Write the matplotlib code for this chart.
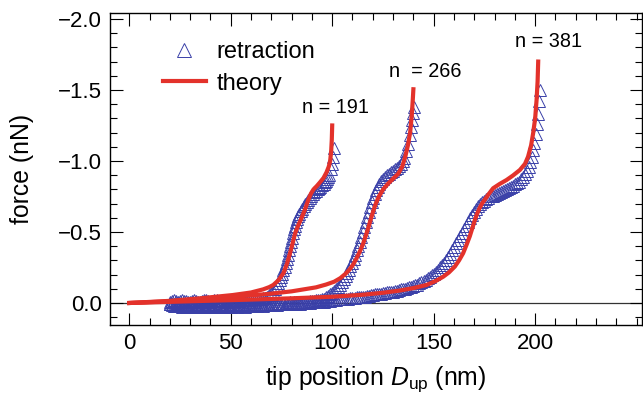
import matplotlib
matplotlib.use("Agg")
import matplotlib.pyplot as plt
from matplotlib.ticker import MultipleLocator

plt.rcParams['font.family'] = ['Liberation Sans', 'DejaVu Sans']
plt.rcParams['mathtext.fontset'] = 'custom'
plt.rcParams['mathtext.rm'] = 'Liberation Sans'
plt.rcParams['mathtext.it'] = 'Liberation Sans:italic'

# theory curves (red)
x_th1 = [0, 20, 35, 51, 60, 66, 69, 71, 73.5, 76, 77.7, 79.2, 80.5, 81.7, 83.2, 84.5, 86.5, 88.2, 89.5,
         90.8, 92.5, 94, 95.7, 97.2, 98.3, 99, 99.5, 99.8, 100]
y_th1 = [0, -0.015, -0.033, -0.056, -0.074, -0.096, -0.112, -0.127, -0.16, -0.21, -0.275, -0.35, -0.42,
         -0.49, -0.545, -0.585, -0.655, -0.725, -0.77, -0.80, -0.825, -0.85, -0.88, -0.92, -0.96, -1.0,
         -1.07, -1.15, -1.25]

x_th2 = [0, 20, 35, 50, 68, 80, 92, 97, 101, 104, 106.5, 108.5, 110.3, 112, 113.7, 115.3, 116.7, 118,
         119.2, 120.3, 121.5, 123, 125.1, 127.5, 130, 132.5, 134.5, 136, 137.3, 138.4, 139.2, 139.7, 140]
y_th2 = [0, -0.012, -0.026, -0.042, -0.063, -0.082, -0.11, -0.13, -0.15, -0.175, -0.205, -0.235, -0.27,
         -0.315, -0.365, -0.42, -0.48, -0.54, -0.60, -0.65, -0.70, -0.75, -0.80, -0.84, -0.875, -0.91,
         -0.96, -1.03, -1.11, -1.20, -1.32, -1.43, -1.505]

x_th3 = [0, 20, 40, 60, 80, 100, 115, 125, 133, 140, 146.5, 151, 154.7, 157.5, 160.4, 162.5, 164.5,
         166.2, 167.8, 169, 170.2, 171.3, 172.5, 173.8, 175.3, 177, 179.3, 182.5, 185.9, 189, 192.5,
         195, 196.5, 198, 199, 200, 200.7, 201.2, 201.5]
y_th3 = [0, -0.008, -0.016, -0.024, -0.033, -0.044, -0.058, -0.072, -0.087, -0.105, -0.127, -0.155,
         -0.185, -0.215, -0.256, -0.30, -0.35, -0.41, -0.47, -0.525, -0.58, -0.625, -0.665, -0.70,
         -0.73, -0.765, -0.808, -0.838, -0.866, -0.897, -0.937, -0.98, -1.03, -1.11, -1.195, -1.30,
         -1.43, -1.56, -1.70]

# retraction data (triangles)
x_re1 = [20, 21, 22, 23, 24, 25, 26, 27, 28, 29, 30, 31, 32, 33, 34, 35, 36, 37, 38, 39, 40, 41, 42,
         43, 44, 45, 46, 47, 48, 49, 50, 51, 52, 53, 54, 55, 56, 57, 58, 59, 60, 61, 62, 63, 64, 65, 66,
         67, 68, 69, 70, 71, 72, 72.8, 73.5, 74.2, 75, 75.5, 76, 76.5, 77, 77.5, 78, 78.5, 79, 79.5,
         80, 80.5, 81, 81.5, 82, 82.5, 83, 83.7, 84.5, 85.2, 86, 86.8, 87.5, 88.2, 89, 89.8, 90.5,
         91.2, 92, 92.8, 93.5, 94.2, 95, 95.8, 96.5, 97, 97.5, 98, 98.5, 99.2, 99.8, 100.3, 100.8]
y_re1 = [-0.01, -0.015, -0.02, -0.015, -0.01, -0.015, -0.02, -0.015, -0.015, -0.01, -0.01, -0.015,
         -0.02, -0.015, -0.01, -0.01, -0.015, -0.02, -0.02, -0.015, -0.01, -0.015, -0.02, -0.02,
         -0.015, -0.015, -0.02, -0.01, -0.01, -0.015, -0.02, -0.02, -0.02, -0.015, -0.015, -0.02,
         -0.025, -0.02, -0.02, -0.025, -0.025, -0.025, -0.03, -0.025, -0.03, -0.03, -0.035,
         -0.035, -0.045, -0.055, -0.07, -0.085, -0.10, -0.12, -0.14, -0.16, -0.18, -0.205, -0.23,
         -0.255, -0.28, -0.31, -0.34, -0.37, -0.40, -0.43, -0.46, -0.49, -0.52, -0.545, -0.57, -0.59,
         -0.61, -0.63, -0.65, -0.665, -0.68, -0.695, -0.71, -0.725, -0.74, -0.755, -0.77, -0.78,
         -0.79, -0.80, -0.81, -0.82, -0.83, -0.84, -0.85, -0.86, -0.87, -0.885, -0.90, -0.94, -0.98,
         -1.03, -1.09]

x_re2 = [20, 21, 22, 23, 24, 25, 26, 27, 28, 29, 30, 31, 32, 33, 34, 35, 36, 37, 38, 39, 40, 41, 42,
         43, 44, 45, 46, 47, 48, 49, 50, 51, 52, 53, 54, 55, 56, 57, 58, 59, 60, 61, 62, 63, 64, 65, 66,
         67, 68, 69, 70, 71, 72, 73, 74, 75, 76, 77, 78, 79, 80, 81, 82, 83, 84, 85, 86, 87, 88, 89,
         90, 91, 92, 93, 94, 95, 96, 97, 98, 99, 100, 101, 102, 103, 104, 105, 106, 106.8, 107.5,
         108.2, 109, 109.8, 110.5, 111.2, 112, 112.8, 113.5, 114.2, 115, 115.8, 116.5, 117.2, 118,
         118.8, 119.5, 120.2, 121, 121.8, 122.5, 123.2, 124, 125, 126, 127, 128, 129, 130, 131, 132,
         133, 134, 134.8, 135.5, 136.5, 137.5, 138.3, 139, 139.5, 140, 140.4]
y_re2 = [0.005, 0.01, 0.01, 0.0, 0.005, 0.01, 0.015, 0.01, 0.015, 0.015, 0.01, 0.005, 0.01, 0.015,
         0.015, 0.01, 0.015, 0.02, 0.015, 0.01, 0.01, 0.015, 0.015, 0.02, 0.015, 0.01, 0.015, 0.015,
         0.01, 0.015, 0.015, 0.01, 0.01, 0.015, 0.01, 0.01, 0.015, 0.01, 0.01, 0.005, 0.01, 0.01,
         0.015, 0.01, 0.01, 0.005, 0.005, 0.01, 0.01, 0.005, 0.005, 0.01, 0.005, 0.0, 0.0, 0.005,
         0.0, 0.0, 0.0, -0.005, 0.0, -0.005, -0.005, -0.005, -0.01, -0.005, -0.01, -0.01, -0.01,
         -0.015, -0.015, -0.015, -0.02, -0.02, -0.02, -0.025, -0.03, -0.04, -0.05, -0.06, -0.07,
         -0.085, -0.10, -0.115, -0.13, -0.15, -0.17, -0.19, -0.21, -0.235, -0.26, -0.285, -0.31,
         -0.34, -0.37, -0.40, -0.43, -0.465, -0.50, -0.535, -0.57, -0.605, -0.64, -0.675, -0.71,
         -0.74, -0.77, -0.795, -0.82, -0.84, -0.86, -0.875, -0.89, -0.90, -0.91, -0.92, -0.93,
         -0.94, -0.95, -0.965, -0.98, -1.0, -1.02, -1.07, -1.12, -1.18, -1.24, -1.29, -1.34, -1.38]

x_re3 = [20, 21, 22, 23, 24, 25, 26, 27, 28, 29, 30, 31, 32, 33, 34, 35, 36, 37, 38, 39, 40, 41, 42,
         43, 44, 45, 46, 47, 48, 49, 50, 51, 52, 53, 54, 55, 56, 57, 58, 59, 60, 61, 62, 63, 64, 65, 66,
         67, 68, 69, 70, 71, 72, 73, 74, 75, 76, 77, 78, 79, 80, 81, 82, 83, 84, 85, 86, 87, 88, 89,
         90, 91, 92, 93, 94, 95, 96, 97, 98, 99, 100, 101, 102, 103, 104, 105, 106, 107, 108, 109, 110,
         111, 112, 113, 114, 115, 116, 117, 118, 119, 120, 121, 122, 123, 124, 125, 126, 127, 128, 129,
         130, 131, 132, 133, 134, 135, 136, 137, 138, 139, 140, 141, 142, 143, 144, 145, 146, 147, 148,
         149, 150, 151, 152, 153, 154, 155, 156, 157, 158, 159, 160, 161, 162, 163, 164, 165, 166, 167,
         168, 169, 170, 171, 172, 173, 174, 175, 176, 177, 178, 179, 180, 181, 182, 183, 184, 185, 186,
         187, 188, 189, 190, 191, 192, 193, 194, 195, 196, 197, 197.7, 198.3, 199, 199.6, 200.2,
         200.8, 201.3, 201.8, 202.3]
y_re3 = [0.01, 0.015, 0.02, 0.02, 0.015, 0.02, 0.025, 0.02, 0.025, 0.025, 0.02, 0.025, 0.02, 0.025,
         0.03, 0.025, 0.02, 0.025, 0.025, 0.02, 0.02, 0.025, 0.03, 0.025, 0.02, 0.025, 0.025, 0.02,
         0.02, 0.025, 0.025, 0.02, 0.02, 0.025, 0.02, 0.02, 0.02, 0.025, 0.02, 0.015, 0.02, 0.02,
         0.015, 0.02, 0.015, 0.015, 0.02, 0.015, 0.015, 0.015, 0.01, 0.015, 0.01, 0.015, 0.01, 0.01,
         0.01, 0.005, 0.01, 0.005, 0.005, 0.01, 0.005, 0.0, 0.005, 0.0, 0.0, 0.0, -0.005, 0.0,
         -0.005, -0.005, -0.01, -0.005, -0.01, -0.01, -0.01, -0.015, -0.015, -0.015, -0.02, -0.02,
         -0.02, -0.025, -0.025, -0.025, -0.03, -0.03, -0.03, -0.035, -0.035, -0.035, -0.04, -0.04,
         -0.045, -0.045, -0.045, -0.05, -0.05, -0.055, -0.055, -0.06, -0.06, -0.065, -0.065, -0.07,
         -0.07, -0.075, -0.075, -0.08, -0.08, -0.085, -0.085, -0.09, -0.095, -0.095, -0.10, -0.105,
         -0.11, -0.115, -0.12, -0.125, -0.13, -0.14, -0.145, -0.155, -0.165, -0.175, -0.185, -0.195,
         -0.205, -0.22, -0.235, -0.25, -0.265, -0.285, -0.305, -0.325, -0.345, -0.37, -0.395, -0.42,
         -0.445, -0.47, -0.495, -0.52, -0.545, -0.57, -0.595, -0.62, -0.64, -0.66, -0.68, -0.695,
         -0.71, -0.72, -0.73, -0.74, -0.75, -0.755, -0.76, -0.77, -0.775, -0.78, -0.79, -0.795, -0.80,
         -0.81, -0.815, -0.825, -0.835, -0.845, -0.855, -0.87, -0.885, -0.905, -0.93, -0.96, -0.99,
         -1.03, -1.08, -1.13, -1.19, -1.26, -1.33, -1.42, -1.50]

labels_n = ["n = 191", "n  = 266", "n = 381"]
label_x = [101.6, 146, 206.7]
label_y = [-1.38, -1.63, -1.84]

blue = '#3a40a8'
red = '#e3322b'

fig = plt.figure(figsize=(6.43, 4.0), dpi=100)
ax = fig.add_axes([0.171, 0.1875, 0.827, 0.78])

ax.axhline(0, color='#333333', lw=0.9, zorder=1)

mk = dict(ls='none', marker='^', ms=8, mfc='none', mec=blue, mew=0.7, zorder=2)
ax.plot(x_re1, y_re1, label='retraction', **mk)
ax.plot(x_re2, y_re2, **mk)
ax.plot(x_re3, y_re3, **mk)

ax.plot(x_th1, y_th1, color=red, lw=3, label='theory', zorder=3)
ax.plot(x_th2, y_th2, color=red, lw=3, zorder=3)
ax.plot(x_th3, y_th3, color=red, lw=3, zorder=3)

for t, x, y in zip(labels_n, label_x, label_y):
    ax.text(x, y, t, ha='center', va='center', fontsize=14.3)

ax.set_xlim(-9.5, 252.5)
ax.set_ylim(0.155, -2.042)
ax.xaxis.set_major_locator(MultipleLocator(50))
ax.xaxis.set_minor_locator(MultipleLocator(10))
ax.yaxis.set_major_locator(MultipleLocator(0.5))
ax.yaxis.set_minor_locator(MultipleLocator(0.1))
ax.set_xticks([0, 50, 100, 150, 200])
ax.tick_params(which='both', direction='in', top=True, right=True, width=0.8, labelsize=16)
ax.tick_params(which='major', length=9, pad=6)
ax.tick_params(which='minor', length=5)
for s in ax.spines.values():
    s.set_linewidth(1.0)

ax.set_xlabel(r'tip position $D_{\mathrm{up}}$ (nm)', fontsize=17.8, labelpad=7)
ax.set_ylabel('force (nN)', fontsize=17.8)
ax.yaxis.set_label_coords(-0.142, 0.5)

ax.legend(loc='upper left', bbox_to_anchor=(0.1, 0.91), frameon=False, fontsize=17,
          handlelength=1.8, handletextpad=0.47, labelspacing=0.4, borderpad=0,
          borderaxespad=0, numpoints=1, markerscale=1.2)

fig.savefig('out.png', dpi=100)
